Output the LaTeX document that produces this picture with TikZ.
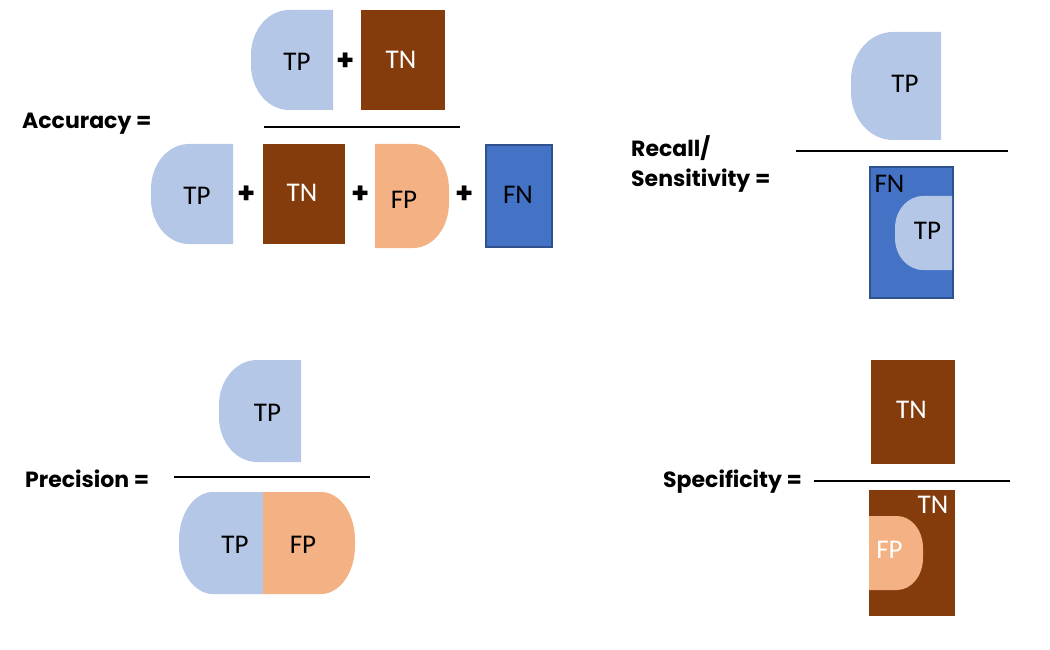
\documentclass[tikz,border=0pt]{standalone}
\usepackage{fontspec}
\setmainfont{Carlito}
\newfontfamily\headfont{Poppins}
\definecolor{tpblue}{HTML}{B4C7E7}
\definecolor{tnbrown}{HTML}{843C0C}
\definecolor{fporange}{HTML}{F4B183}
\definecolor{fnblue}{HTML}{4472C4}
\definecolor{fnedge}{HTML}{2F528F}
% shape with rounded left side: colour, x1, y1, x2, y2, rx, ry
\newcommand\leftD[7]{\fill[#1] (#4,#3) -- ({#2+#6},#3) .. controls ({#2+0.4477*#6},#3) and (#2,{#3+0.4477*#7}) .. (#2,{#3+#7}) -- (#2,{#5-#7}) .. controls (#2,{#5-0.4477*#7}) and ({#2+0.4477*#6},#5) .. ({#2+#6},#5) -- (#4,#5) -- cycle;}
% shape with rounded right side
\newcommand\rightD[7]{\fill[#1] (#2,#3) -- ({#4-#6},#3) .. controls ({#4-0.4477*#6},#3) and (#4,{#3+0.4477*#7}) .. (#4,{#3+#7}) -- (#4,{#5-#7}) .. controls (#4,{#5-0.4477*#7}) and ({#4-0.4477*#6},#5) .. ({#4-#6},#5) -- (#2,#5) -- cycle;}
\begin{document}
\begin{tikzpicture}[x=1pt,y=-1pt,
  lbl/.style={inner sep=0pt, font=\fontsize{27}{30}\selectfont},
  wlbl/.style={lbl, text=white},
  head/.style={inner sep=0pt, anchor=base west, font=\headfont\bfseries\fontsize{22}{26}\selectfont},
  plussign/.style={inner sep=0pt, font=\headfont\bfseries\fontsize{29}{32}\selectfont},
  fracline/.style={line width=1.8pt, black},
  brownbox/.style={fill=tnbrown},
  bluebox/.style={fill=fnblue, draw=fnedge, line width=1.6pt}]
\useasboundingbox (0,0) rectangle (1050,650);

% ---------------- Accuracy ----------------
\node[head] (acc) at (22,129) {Accuracy =};
\leftD{tpblue}{251}{10}{333}{110}{38}{45}
\fill[brownbox] (361,10) rectangle (445,110);
\node[lbl] (accTP1) at (297,62) {TP};
\node[plussign] (accP1) at (346,62) {+};
\node[wlbl] (accTN1) at (401,60) {TN};
\coordinate (accL1) at (264,127);
\coordinate (accL2) at (460,127);
\draw[fracline] (accL1) -- (accL2);
\leftD{tpblue}{151}{144}{233}{244}{38}{45}
\fill[brownbox] (263,144) rectangle (345,244);
\rightD{fporange}{375}{144}{449}{248}{36}{45}
\filldraw[bluebox] (486,145) rectangle (552,247);
\node[lbl] (accTP2) at (197,196) {TP};
\node[plussign] (accP2) at (247,195) {+};
\node[wlbl] (accTN2) at (302,193) {TN};
\node[plussign] (accP3) at (361,195) {+};
\node[lbl] (accFP2) at (404,200) {FP};
\node[plussign] (accP4) at (465,195) {+};
\node[lbl] (accFN2) at (518,195) {FN};

% ---------------- Recall ----------------
\node[head] (rec1) at (631,157) {Recall/};
\node[head] (rec2) at (631,186) {Sensitivity =};
\leftD{tpblue}{851}{32}{941}{140}{42}{48}
\node[lbl] (recTP1) at (905,84) {TP};
\coordinate (recL1) at (796,151);
\coordinate (recL2) at (1008,151);
\draw[fracline] (recL1) -- (recL2);
\filldraw[bluebox] (870,167) rectangle (953,298);
\leftD{tpblue}{895}{196}{952.2}{270}{28}{32}
\node[lbl] (recFN) at (889.5,184) {FN};
\node[lbl] (recTP2) at (927.5,231) {TP};

% ---------------- Precision ----------------
\node[head] (pre) at (25,487) {Precision =};
\leftD{tpblue}{219}{360}{301}{462}{38}{45}
\node[lbl] (preTP1) at (267.5,412.5) {TP};
\coordinate (preL1) at (174,477);
\coordinate (preL2) at (370,477);
\draw[fracline] (preL1) -- (preL2);
\leftD{tpblue}{179}{492}{263.5}{594}{34}{48}
\rightD{fporange}{263}{492}{355}{594}{34}{48}
\node[lbl] (preTP2) at (235,545) {TP};
\node[lbl] (preFP2) at (303,545) {FP};

% ---------------- Specificity ----------------
\node[head] (spe) at (663,487) {Specificity =};
\fill[brownbox] (871,360) rectangle (955,464);
\node[wlbl] (speTN1) at (911.5,409.5) {TN};
\coordinate (speL1) at (814,481);
\coordinate (speL2) at (1010,481);
\draw[fracline] (speL1) -- (speL2);
\fill[brownbox] (869,490) rectangle (955,616);
\rightD{fporange}{869}{516}{923}{590}{26}{32}
\node[wlbl] (speTN2) at (933,504.5) {TN};
\node[wlbl] (speFP2) at (889.5,549.5) {FP};
\end{tikzpicture}
\end{document}
